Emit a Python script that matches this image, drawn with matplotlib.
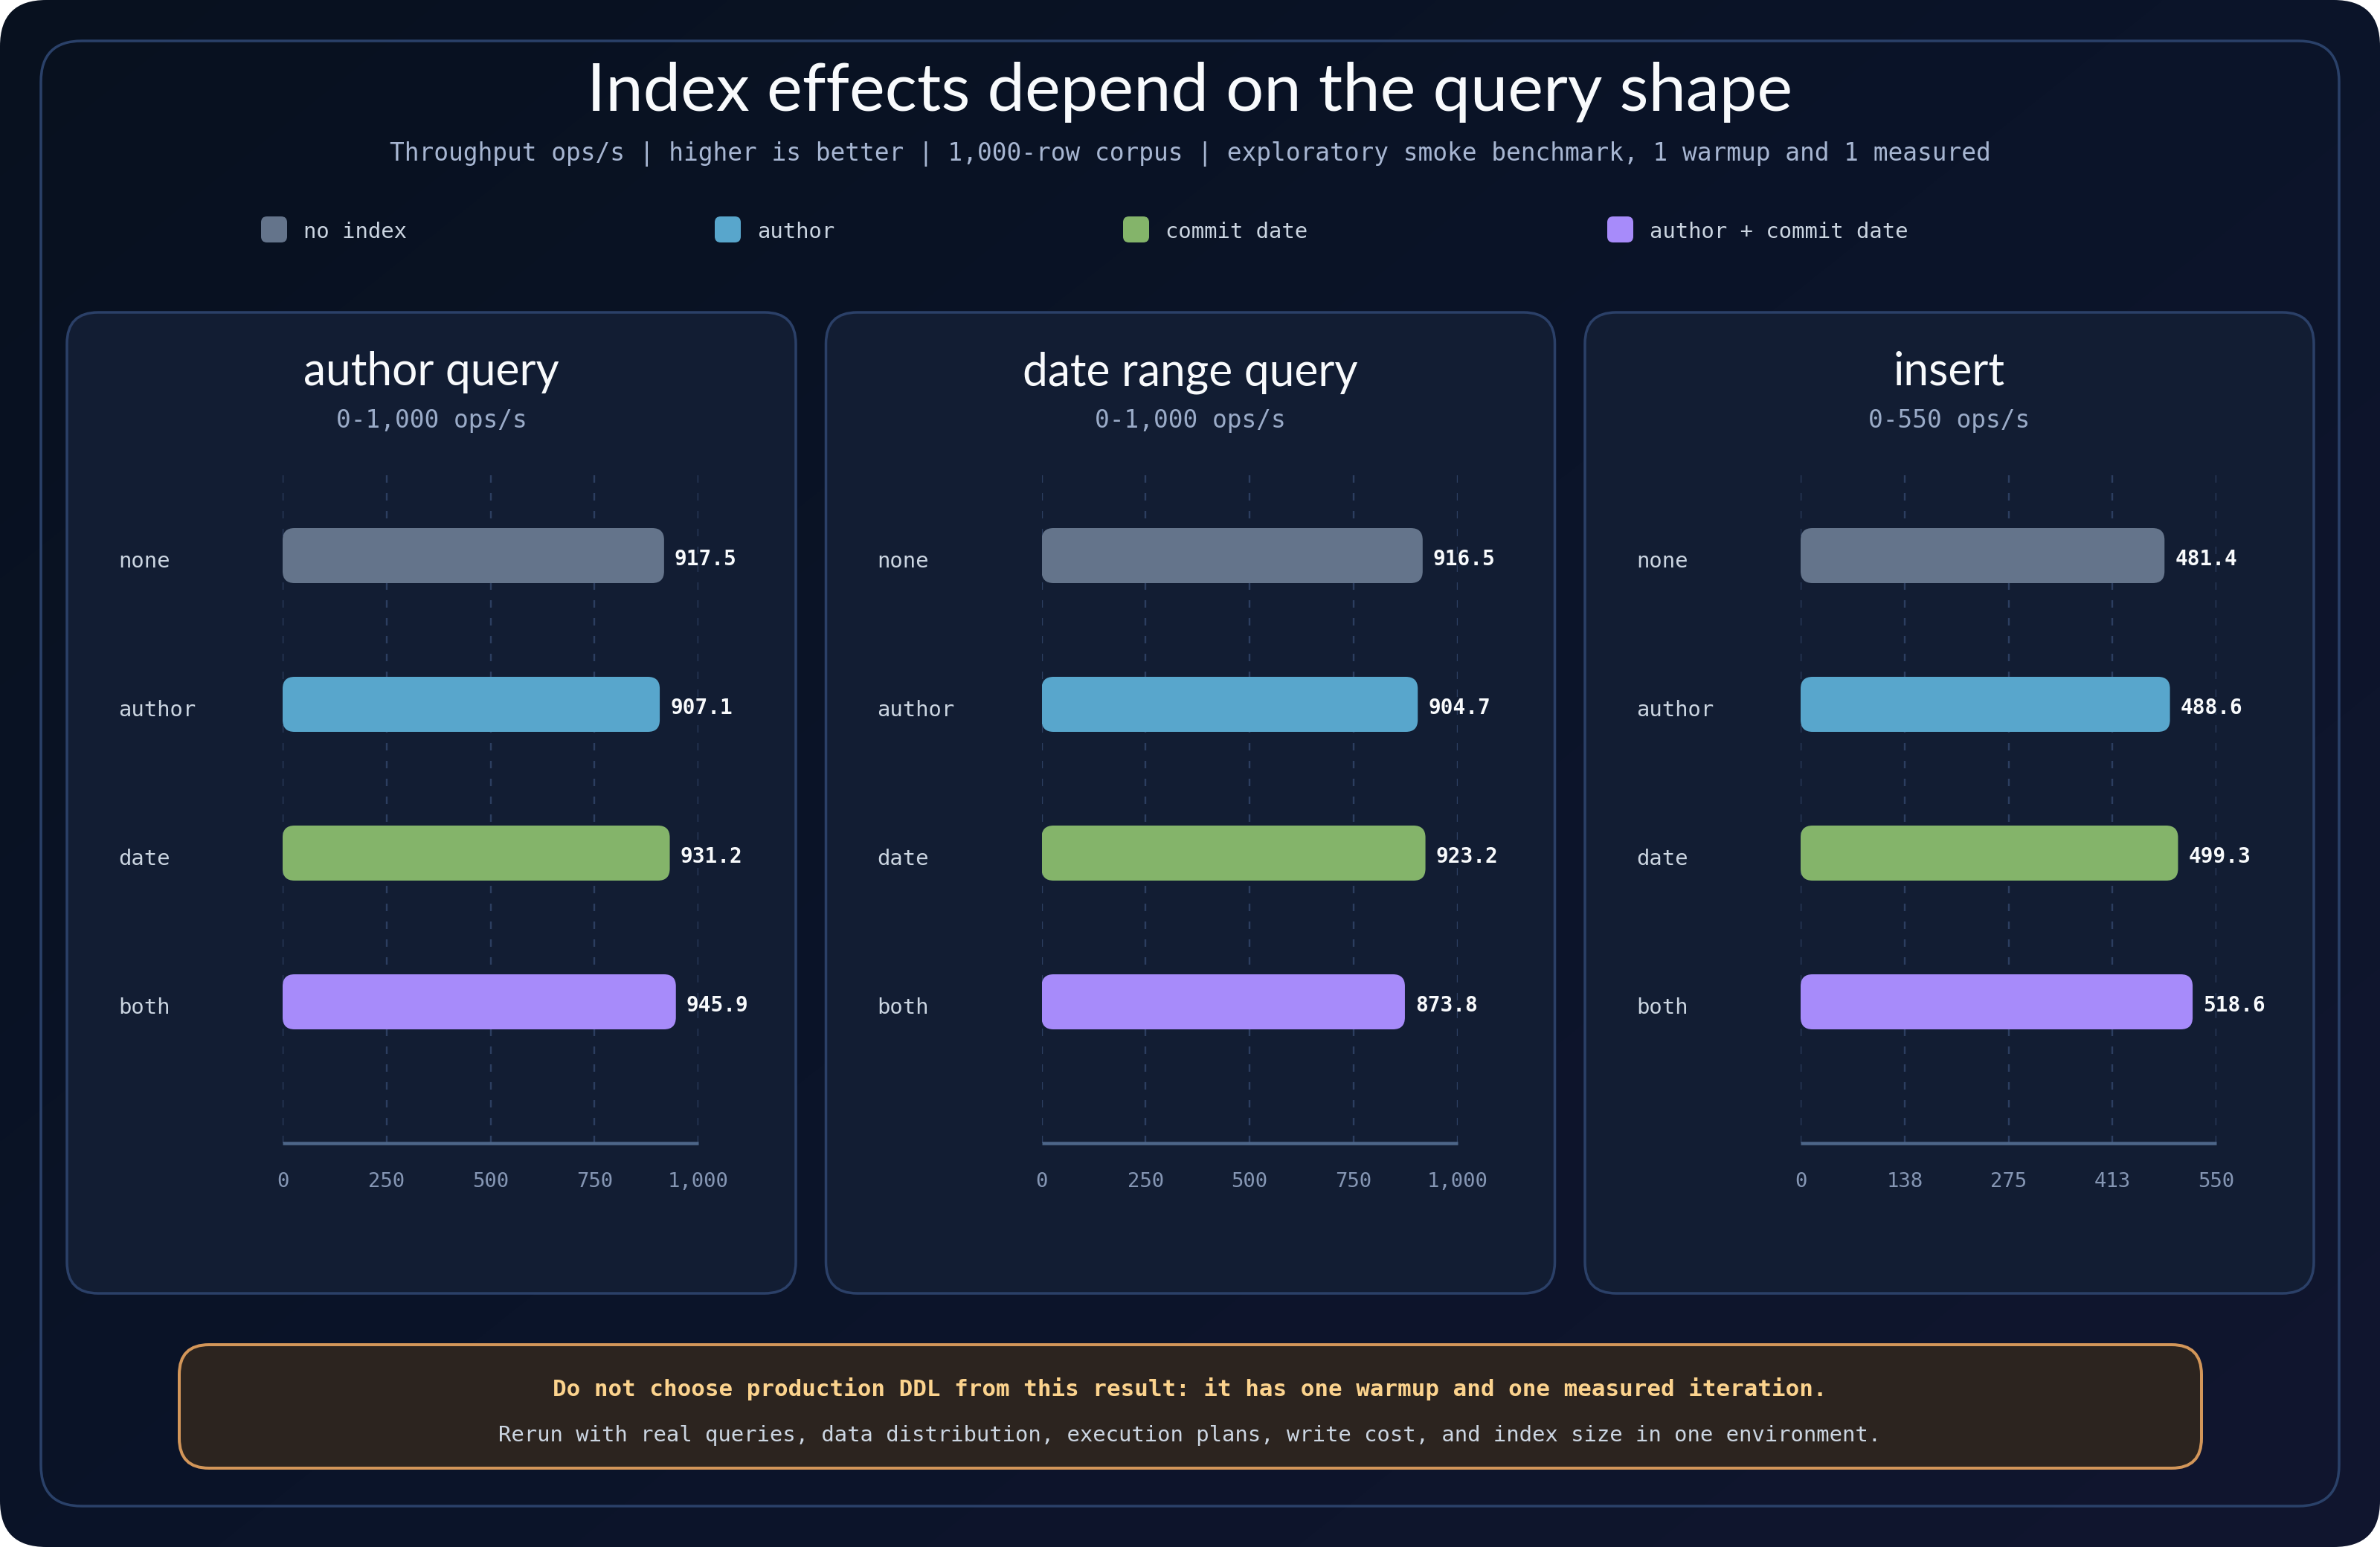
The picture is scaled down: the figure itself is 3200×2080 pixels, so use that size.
import numpy as np
import matplotlib
matplotlib.use("Agg")
import matplotlib.pyplot as plt
from matplotlib.patches import FancyBboxPatch
from matplotlib.colors import LinearSegmentedColormap

# ---------------- data ----------------
title = "Index effects depend on the query shape"
subtitle = ("Throughput ops/s | higher is better | 1,000-row corpus | "
            "exploratory smoke benchmark, 1 warmup and 1 measured")
series_names = ["no index", "author", "commit date", "author + commit date"]
categories = ["none", "author", "date", "both"]
series_colors = ["#64748b", "#58a6cc", "#84b46a", "#a78bfa"]

panel_titles = ["author query", "date range query", "insert"]
panel_ranges = ["0-1,000 ops/s", "0-1,000 ops/s", "0-550 ops/s"]
author_query = [917.5, 907.1, 931.2, 945.9]
date_range_query = [916.5, 904.7, 923.2, 873.8]
insert_ops = [481.4, 488.6, 499.3, 518.6]
panel_values = [author_query, date_range_query, insert_ops]
x_max = [1000, 1000, 550]
tick_values = [[0, 250, 500, 750, 1000],
               [0, 250, 500, 750, 1000],
               [0, 137.5, 275, 412.5, 550]]
tick_labels = [["0", "250", "500", "750", "1,000"],
               ["0", "250", "500", "750", "1,000"],
               ["0", "138", "275", "413", "550"]]

note_main = ("Do not choose production DDL from this result: "
             "it has one warmup and one measured iteration.")
note_sub = ("Rerun with real queries, data distribution, execution plans, "
            "write cost, and index size in one environment.")

# ---------------- style ----------------
W, H = 3200, 2080
DPI = 200
PX = 72.0 / DPI  # points per pixel
MONO = "DejaVu Sans Mono"
HAND = "Lato"

fig = plt.figure(figsize=(W / DPI, H / DPI), dpi=DPI, facecolor="white")

bg = fig.add_axes([0, 0, 1, 1], zorder=0)
bg.set_xlim(0, W)
bg.set_ylim(H, 0)
bg.axis("off")

# gradient background clipped to rounded card
yy, xx = np.mgrid[0:H:4, 0:W:4]
grad = 0.55 * xx / W + 0.45 * yy / H
cmap = LinearSegmentedColormap.from_list("bgc", ["#08111f", "#0b1429", "#11162f"])
outer = FancyBboxPatch((0, 0), W, H, boxstyle="round,pad=0,rounding_size=62",
                       fc="none", ec="none", transform=bg.transData)
bg.add_patch(outer)
im = bg.imshow(grad, extent=(0, W, H, 0), cmap=cmap, aspect="auto",
               interpolation="bilinear", zorder=0)
im.set_clip_path(outer)

# outer frame
bg.add_patch(FancyBboxPatch((55, 55), 3090, 1970,
                            boxstyle="round,pad=0,rounding_size=55",
                            fc="none", ec="#2a4169", lw=3.5 * PX, zorder=1))

# title & subtitle
bg.text(1600, 149, title, ha="center", va="baseline", color="#f8fafc",
        fontsize=32.5, family=HAND, zorder=3)
bg.text(1600, 216, subtitle, ha="center", va="baseline", color="#a7b6d2",
        fontsize=11.8, family=MONO, zorder=3)

# legend
legend_x = [351, 961, 1510, 2161]
for lx, name, col in zip(legend_x, series_names, series_colors):
    bg.add_patch(FancyBboxPatch((lx, 291), 35, 35,
                                boxstyle="round,pad=0,rounding_size=8",
                                fc=col, ec="none", zorder=3))
    bg.text(lx + 57, 320, name, ha="left", va="baseline", color="#cbd5e1",
            fontsize=10.4, family=MONO, zorder=3)

# panels
panel_left = [90, 1110.5, 2131]
PANEL_TOP, PANEL_H, PANEL_W = 420, 1319, 980
AX_TOP, AX_BOTTOM = 639, 1537
AX_W = 559
ROW_PX = 200.0
BAR_H = 0.37

for i in range(3):
    pl = panel_left[i]
    bg.add_patch(FancyBboxPatch((pl, PANEL_TOP), PANEL_W, PANEL_H,
                                boxstyle="round,pad=0,rounding_size=42",
                                fc="#121d33", ec="#2b4068", lw=3.5 * PX, zorder=1))
    cx = pl + PANEL_W / 2
    bg.text(cx, 518, panel_titles[i], ha="center", va="baseline",
            color="#f8fafc", fontsize=21.8, family=HAND, zorder=3)
    bg.text(cx, 575, panel_ranges[i], ha="center", va="baseline",
            color="#9aabc8", fontsize=11.8, family=MONO, zorder=3)

    ax_left = pl + 290
    ax = fig.add_axes([ax_left / W, 1 - AX_BOTTOM / H, AX_W / W,
                       (AX_BOTTOM - AX_TOP) / H], zorder=2)
    ax.patch.set_alpha(0)
    xm = x_max[i]
    ax.set_xlim(0, xm)
    top = -108 / ROW_PX
    bottom = 3 + (AX_BOTTOM - AX_TOP - 708) / ROW_PX
    ax.set_ylim(bottom, top)
    for s in ["top", "right", "left"]:
        ax.spines[s].set_visible(False)
    ax.spines["bottom"].set_color("#4d6689")
    ax.spines["bottom"].set_linewidth(4.5 * PX)
    ax.spines["bottom"].set_capstyle("butt")
    ax.set_yticks([])
    ax.set_xticks(tick_values[i])
    ax.set_xticklabels(tick_labels[i], family=MONO, fontsize=9.8,
                       color="#8596b4")
    ax.tick_params(axis="x", length=0, pad=14)
    ax.grid(axis="x", color="#2c3e60", lw=2.4 * PX,
            ls=(0, (10 / 2.4, 14 / 2.4)))
    ax.set_axisbelow(True)

    vals = panel_values[i]
    ypos = np.arange(len(categories))
    bars = ax.barh(ypos, vals, height=BAR_H, color=series_colors)
    x_per_px = xm / AX_W
    r_x = 16 * x_per_px
    aspect = (16 / ROW_PX) / r_x
    for b, col in zip(bars, series_colors):
        b.set_visible(False)
        x0, y0 = b.get_x(), b.get_y()
        w, h = b.get_width(), b.get_height()
        ax.add_patch(FancyBboxPatch((x0, y0), w, h,
                                    boxstyle=f"round,pad=0,rounding_size={r_x}",
                                    mutation_aspect=aspect,
                                    fc=col, ec="none", zorder=3))
    for yv, v, cat in zip(ypos, vals, categories):
        ax.annotate(f"{v:.1f}", xy=(v, yv), xytext=(14 * PX, -13 * PX),
                    textcoords="offset points", ha="left", va="baseline",
                    color="#f8fafc", fontsize=10, fontweight="semibold",
                    family=MONO, zorder=4)
        ax.annotate(cat, xy=(0, yv), xycoords=("axes fraction", "data"),
                    xytext=(-221 * PX, -16 * PX), textcoords="offset points",
                    ha="left", va="baseline", color="#cbd5e1",
                    fontsize=10.4, family=MONO, zorder=4)

# footer note
bg.add_patch(FancyBboxPatch((241, 1808), 2719, 166,
                            boxstyle="round,pad=0,rounding_size=40",
                            fc="#2c241f", ec="#d39659", lw=4 * PX, zorder=1))
bg.text(1600, 1877, note_main, ha="center", va="baseline", color="#fcd38d",
        fontsize=11.1, fontweight="bold", family=MONO, zorder=3)
bg.text(1600, 1938, note_sub, ha="center", va="baseline", color="#cbd5e1",
        fontsize=10.4, family=MONO, zorder=3)

fig.savefig("out.png", dpi=DPI, facecolor="white")
